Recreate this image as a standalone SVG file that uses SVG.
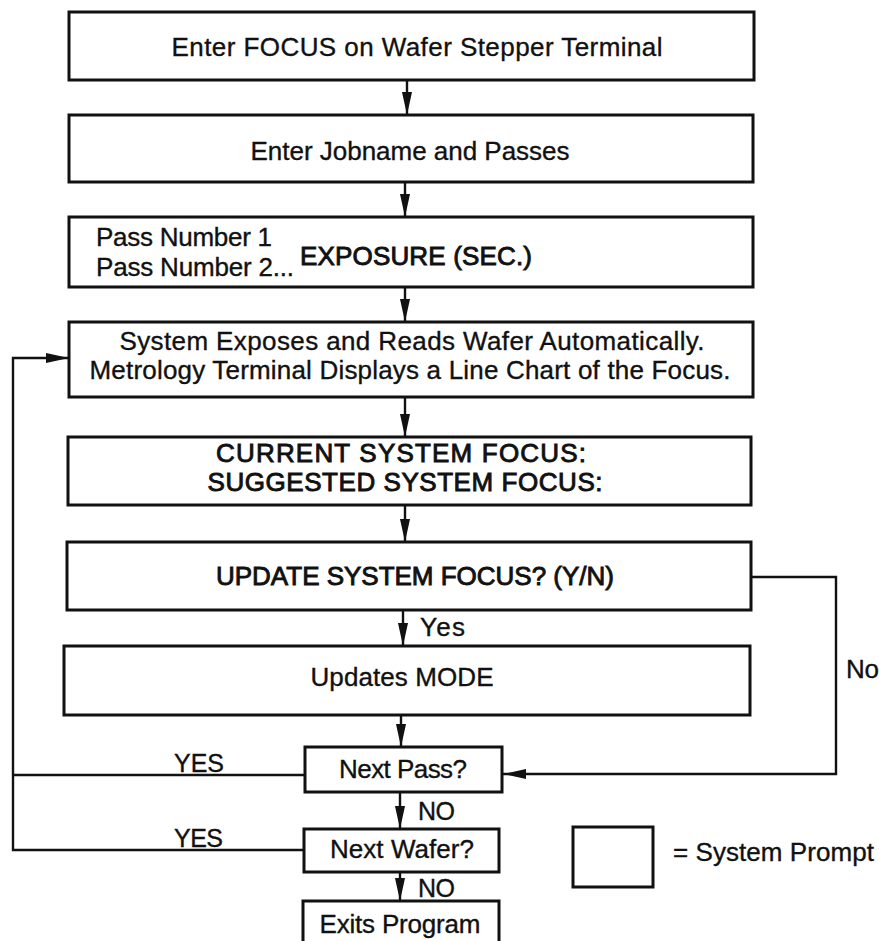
<svg xmlns="http://www.w3.org/2000/svg" width="879" height="941" viewBox="0 0 879 941">
  <style>
    .box { fill: #ffffff; stroke: #111111; stroke-width: 3; }
    .wire { fill: none; stroke: #111111; stroke-width: 2.4; }
    .lbl { font-family: "Liberation Sans", Arial, sans-serif; font-size: 26px; fill: #111111; stroke: #111111; stroke-width: 0.35; }
    .mid { text-anchor: middle; }
    .cap { stroke-width: 0.9; }
    .small { font-size: 25px; }
  </style>
  <defs>
    <marker id="head" markerUnits="userSpaceOnUse" viewBox="0 0 23 10" refX="23" refY="5" markerWidth="23" markerHeight="10" orient="auto">
      <path d="M0,0 L23,5 L0,10 Z" fill="#111111"/>
    </marker>
  </defs>
  <rect width="879" height="941" fill="#ffffff"/>

  <!-- connectors -->
  <g id="connectors">
    <line class="wire" x1="407" y1="80" x2="407" y2="115" marker-end="url(#head)"/>
    <line class="wire" x1="405" y1="182" x2="405" y2="217" marker-end="url(#head)"/>
    <line class="wire" x1="405" y1="287" x2="405" y2="322" marker-end="url(#head)"/>
    <line class="wire" x1="405" y1="397" x2="405" y2="437" marker-end="url(#head)"/>
    <line class="wire" x1="405" y1="505" x2="405" y2="542" marker-end="url(#head)"/>
    <line class="wire" x1="403" y1="610" x2="403" y2="646" marker-end="url(#head)"/>
    <line class="wire" x1="401" y1="715" x2="401" y2="747" marker-end="url(#head)"/>
    <line class="wire" x1="400" y1="792" x2="400" y2="829" marker-end="url(#head)"/>
    <line class="wire" x1="400" y1="872" x2="400" y2="901" marker-end="url(#head)"/>
    <!-- No branch back into Next Pass? -->
    <polyline class="wire" points="752,577 836,577 836,774 503,774" marker-end="url(#head)"/>
    <!-- YES loops back to the exposure step -->
    <polyline class="wire" points="305,775 13,775"/>
    <polyline class="wire" points="304,850 13,850 13,358 69,358" marker-end="url(#head)"/>
    <text class="lbl" x="420" y="636" textLength="45">Yes</text>
    <text class="lbl" x="846" y="678" textLength="33">No</text>
    <text class="lbl small" x="174" y="772" textLength="50">YES</text>
    <text class="lbl small" x="418" y="820" textLength="37">NO</text>
    <text class="lbl small" x="174" y="847" textLength="49">YES</text>
    <text class="lbl small" x="418" y="897" textLength="37">NO</text>
  </g>

  <g id="enter-focus">
    <rect class="box" x="69" y="12" width="685" height="68"/>
    <text class="lbl mid" x="417" y="56" textLength="491">Enter FOCUS on Wafer Stepper Terminal</text>
  </g>

  <g id="enter-jobname">
    <rect class="box" x="69" y="115" width="684" height="67"/>
    <text class="lbl mid" x="410" y="160" textLength="319">Enter Jobname and Passes</text>
  </g>

  <g id="exposure">
    <rect class="box" x="69" y="217" width="684" height="70"/>
    <text class="lbl" x="96" y="246" textLength="176">Pass Number 1</text>
    <text class="lbl" x="96" y="276" textLength="198">Pass Number 2...</text>
    <text class="lbl cap" x="300" y="265" textLength="232">EXPOSURE (SEC.)</text>
  </g>

  <g id="expose-read">
    <rect class="box" x="69" y="322" width="684" height="75"/>
    <text class="lbl mid" x="412" y="350" textLength="585">System Exposes and Reads Wafer Automatically.</text>
    <text class="lbl mid" x="410" y="379" textLength="641">Metrology Terminal Displays a Line Chart of the Focus.</text>
  </g>

  <g id="focus-values">
    <rect class="box" x="68" y="437" width="683" height="68"/>
    <text class="lbl mid cap" x="401" y="462" textLength="370">CURRENT SYSTEM FOCUS:</text>
    <text class="lbl mid cap" x="405" y="491" textLength="395">SUGGESTED SYSTEM FOCUS:</text>
  </g>

  <g id="update-prompt">
    <rect class="box" x="67" y="542" width="684" height="68"/>
    <text class="lbl mid cap" x="415" y="585" textLength="398">UPDATE SYSTEM FOCUS? (Y/N)</text>
  </g>

  <g id="updates-mode">
    <rect class="box" x="64" y="646" width="686" height="69"/>
    <text class="lbl mid" x="402" y="686" textLength="183">Updates MODE</text>
  </g>

  <g id="next-pass">
    <rect class="box" x="305" y="747" width="197" height="45"/>
    <text class="lbl mid" x="403" y="778" textLength="128">Next Pass?</text>
  </g>

  <g id="next-wafer">
    <rect class="box" x="304" y="829" width="195" height="43"/>
    <text class="lbl mid" x="402" y="858" textLength="144">Next Wafer?</text>
  </g>

  <g id="exits-program">
    <rect class="box" x="303" y="901" width="196" height="50"/>
    <text class="lbl mid" x="400" y="933" textLength="161">Exits Program</text>
  </g>

  <g id="legend">
    <rect class="box" x="573" y="827" width="80" height="60"/>
    <text class="lbl" x="673" y="861" textLength="201">= System Prompt</text>
  </g>
</svg>
